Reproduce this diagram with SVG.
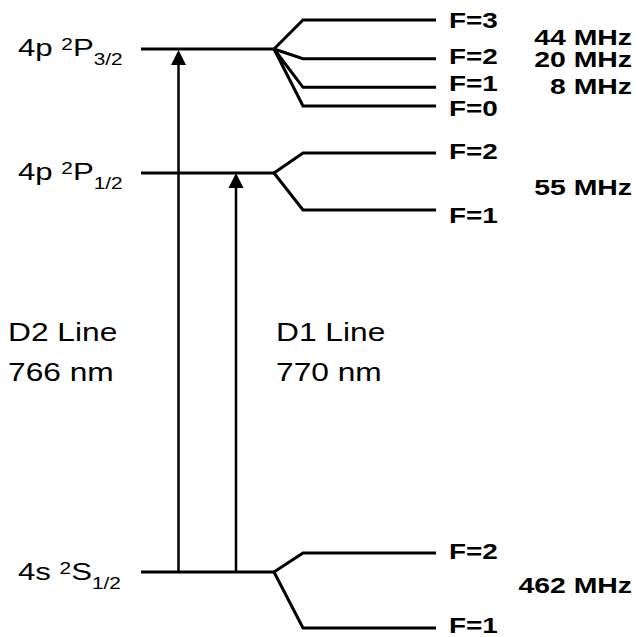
<svg xmlns="http://www.w3.org/2000/svg" width="637" height="637" viewBox="0 0 637 637">
<style>
.lv{fill:none;stroke:#000;stroke-width:3;stroke-linejoin:miter}
.ar{fill:none;stroke:#000;stroke-width:2.5}
.ah{fill:#000}
.t{font-family:"Liberation Sans",Arial,sans-serif;font-size:24px;fill:#000}
.s{font-size:16px}
.d{font-family:"Liberation Sans",Arial,sans-serif;font-size:26px;fill:#000}
.b{font-family:"Liberation Sans",Arial,sans-serif;font-size:22px;font-weight:bold;fill:#000}
</style>
<rect width="637" height="637" fill="#fff"/>
<g id="level-4p-P32">
<path class="lv" d="M141,49H274"/>
<g transform="translate(18,56) scale(1.3,1)"><text class="t" x="0" y="0">4p <tspan class="s" dy="-6">2</tspan><tspan dy="6">P</tspan><tspan class="s" dy="9">3/2</tspan></text></g>
</g>
<g id="level-4p-P12">
<path class="lv" d="M141,173H274"/>
<g transform="translate(18,180) scale(1.3,1)"><text class="t" x="0" y="0">4p <tspan class="s" dy="-6">2</tspan><tspan dy="6">P</tspan><tspan class="s" dy="9">1/2</tspan></text></g>
</g>
<g id="level-4s-S12">
<path class="lv" d="M141,572H274"/>
<g transform="translate(18,580) scale(1.3,1)"><text class="t" x="0" y="0">4s <tspan class="s" dy="-6">2</tspan><tspan dy="6">S</tspan><tspan class="s" dy="9">1/2</tspan></text></g>
</g>
<g id="hfs-P32">
<path class="lv" d="M274,49L303,20H436M274,49L303,58.7H436M274,49L303,87.3H436M274,49L303,106H436"/>
<g transform="translate(449,28) scale(1.27,1)"><text class="b">F=3</text></g>
<g transform="translate(449,64) scale(1.27,1)"><text class="b">F=2</text></g>
<g transform="translate(449,91) scale(1.27,1)"><text class="b">F=1</text></g>
<g transform="translate(449,116) scale(1.27,1)"><text class="b">F=0</text></g>
<g transform="translate(632,45) scale(1.29,1)"><text class="b" text-anchor="end">44 MHz</text></g>
<g transform="translate(632,67) scale(1.29,1)"><text class="b" text-anchor="end">20 MHz</text></g>
<g transform="translate(632,94) scale(1.29,1)"><text class="b" text-anchor="end">8 MHz</text></g>
</g>
<g id="hfs-P12">
<path class="lv" d="M274,173L303,153H436M274,173L303,210H436"/>
<g transform="translate(449,159) scale(1.27,1)"><text class="b">F=2</text></g>
<g transform="translate(449,223) scale(1.27,1)"><text class="b">F=1</text></g>
<g transform="translate(632,195) scale(1.29,1)"><text class="b" text-anchor="end">55 MHz</text></g>
</g>
<g id="hfs-S12">
<path class="lv" d="M274,572L303,553H436M274,572L303,628H436"/>
<g transform="translate(449,559) scale(1.27,1)"><text class="b">F=2</text></g>
<g transform="translate(449,633) scale(1.27,1)"><text class="b">F=1</text></g>
<g transform="translate(632,593) scale(1.29,1)"><text class="b" text-anchor="end">462 MHz</text></g>
</g>
<g id="connectors">
<path class="ar" d="M178.5,572V63"/>
<path class="ah" d="M178.5,50L186,65H171Z"/>
<path class="ar" d="M236,572V186"/>
<path class="ah" d="M236,173L243.5,188H228.5Z"/>
</g>
<g id="label-D2">
<g transform="translate(8,341) scale(1.22,1)"><text class="d">D2 Line</text></g>
<g transform="translate(8,381) scale(1.22,1)"><text class="d">766 nm</text></g>
</g>
<g id="label-D1">
<g transform="translate(276,341) scale(1.22,1)"><text class="d">D1 Line</text></g>
<g transform="translate(276,381) scale(1.22,1)"><text class="d">770 nm</text></g>
</g>
</svg>
